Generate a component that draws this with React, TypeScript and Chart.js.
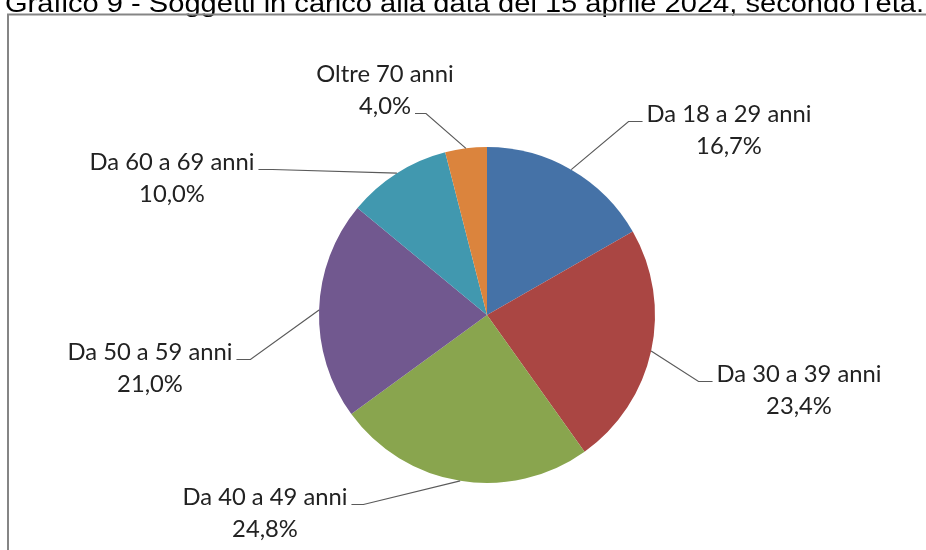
import React, { useEffect, useRef } from "react";
import { Chart, registerables } from "chart.js";

Chart.register(...registerables);

const titleText = "Grafico 9 - Soggetti in carico alla data del 15 aprile 2024, secondo l'età.";
const categories = ["Da 18 a 29 anni", "Da 30 a 39 anni", "Da 40 a 49 anni", "Da 50 a 59 anni", "Da 60 a 69 anni", "Oltre 70 anni"];
const shares = [16.7, 23.4, 24.8, 21.0, 10.0, 4.0];
const sliceColors = ["#4572A7", "#AA4643", "#89A54E", "#71588F", "#4198AF", "#DB843D"];

// label layout: centre x, first-line baseline, side where leader attaches, which line, elbow length
const labelLayout = [
  { cx: 729, by: 122, side: "left", line: 0, elbow: 14 },
  { cx: 799, by: 382, side: "left", line: 0, elbow: 14 },
  { cx: 265, by: 505, side: "right", line: 0, elbow: 12 },
  { cx: 150, by: 360, side: "right", line: 0, elbow: 14 },
  { cx: 172, by: 170, side: "right", line: 0, elbow: 14 },
  { cx: 385, by: 82, side: "right", line: 1, elbow: 11 },
];

const fmt = (v: number) => v.toFixed(1).replace(".", ",") + "%";

const overlay = {
  id: "overlay",
  afterDraw(chart: any) {
    const ctx = chart.ctx as CanvasRenderingContext2D;
    ctx.save();
    // title (cut at the top)
    ctx.font = "26px 'Liberation Sans', Arial, sans-serif";
    const tw = ctx.measureText(titleText).width;
    const sx = 919 / tw;
    ctx.fillStyle = "#000";
    ctx.textBaseline = "alphabetic";
    ctx.textAlign = "left";
    ctx.save();
    ctx.translate(5, 12);
    ctx.scale(sx, 1);
    ctx.fillText(titleText, 0, 0);
    ctx.restore();
    // frame
    ctx.strokeStyle = "#858585";
    ctx.lineWidth = 2;
    ctx.beginPath();
    ctx.moveTo(8, 560);
    ctx.lineTo(8, 14.5);
    ctx.lineTo(940, 14.5);
    ctx.stroke();

    // labels
    ctx.font = "24px Lato, sans-serif";
    const ref = ctx.measureText(categories[0]).width;
    const fs = (24 * 165) / ref;
    ctx.font = `${fs}px Lato, sans-serif`;
    const lineGap = 32;
    const meta = chart.getDatasetMeta(0);
    meta.data.forEach((arc: any, i: number) => {
      const L = labelLayout[i];
      const lines = [categories[i], fmt(shares[i])];
      ctx.fillStyle = "#222";
      ctx.textAlign = "center";
      lines.forEach((t, k) => ctx.fillText(t, L.cx, L.by + k * lineGap));
      const w = ctx.measureText(lines[L.line]).width;
      const ly = L.by + L.line * lineGap - 0.5;
      const mid = (arc.startAngle + arc.endAngle) / 2;
      const px = arc.x + Math.cos(mid) * arc.outerRadius;
      const py = arc.y + Math.sin(mid) * arc.outerRadius;
      let x0: number, x1: number;
      if (L.side === "left") {
        x0 = L.cx - w / 2 - 4;
        x1 = x0 - L.elbow;
      } else {
        x0 = L.cx + w / 2 + 4;
        x1 = x0 + L.elbow;
      }
      ctx.strokeStyle = "#5a5a5a";
      ctx.lineWidth = 1.2;
      ctx.beginPath();
      ctx.moveTo(x0, ly);
      ctx.lineTo(x1, ly);
      ctx.lineTo(px, py);
      ctx.stroke();
    });
    ctx.restore();
  },
};

export default function App() {
  const ref = useRef<HTMLCanvasElement>(null);
  useEffect(() => {
    if (!ref.current) return;
    const chart = new Chart(ref.current, {
      type: "pie",
      data: {
        labels: categories,
        datasets: [
          {
            data: shares,
            backgroundColor: sliceColors,
            borderWidth: 0,
            hoverOffset: 0,
          },
        ],
      },
      options: {
        responsive: false,
        animation: false,
        devicePixelRatio: 1,
        events: [],
        radius: 168,
        layout: { padding: { left: 150, right: 102, top: 100, bottom: 20 } },
        plugins: { legend: { display: false }, tooltip: { enabled: false }, title: { display: false } },
      } as any,
      plugins: [overlay],
    });
    return () => chart.destroy();
  }, []);
  return (
    <div style={{ position: "absolute", left: 0, top: 0, width: 926, height: 550, background: "#fff" }}>
      <canvas ref={ref} width={926} height={550} />
    </div>
  );
}
